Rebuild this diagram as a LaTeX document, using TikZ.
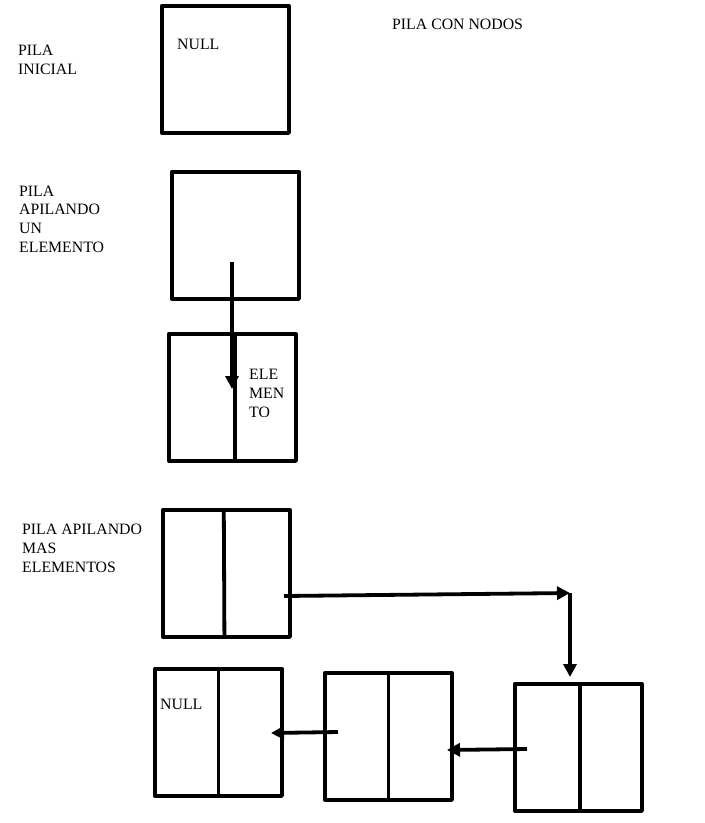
\documentclass[tikz,border=0pt]{standalone}
\usepackage{fontspec}
\setmainfont{Liberation Serif}
\usetikzlibrary{arrows.meta,calc}
\begin{document}
\begin{tikzpicture}[x=1pt,y=-1pt,
  box/.style={draw,line width=3.8pt,line join=round,minimum width=127pt,minimum height=127pt,inner sep=0pt,anchor=north west},
  lbl/.style={inner sep=0pt,anchor=base west,align=left,font=\fontsize{15.8}{18.6}\selectfont},
  divider/.style={line width=3.8pt},
  link/.style={line width=3.8pt,-{Triangle[length=13pt,width=13pt]}}]
\useasboundingbox (0,0) rectangle (705,823);
% titles (anchor at baseline of last line)
\node[lbl] (title) at (392,29) {PILA CON NODOS};
\node[lbl] (l1) at (18,74) {PILA\\INICIAL};
\node[lbl] (l2) at (19,252) {PILA\\APILANDO\\UN\\ELEMENTO};
\node[lbl] (l3) at (22,572) {PILA APILANDO\\MAS\\ELEMENTOS};
% boxes
\node[box] (b1) at (160,4) {};
\node[lbl] (null1) at (177,49) {NULL};
\node[box] (b2) at (170,170) {};
\node[box] (b3) at (167,332) {};
\node[lbl] (elem) at (249,417) {ELE\\MEN\\TO};
\node[box] (b4) at (161,508) {};
\node[box] (b5) at (153,667) {};
\node[lbl] (null2) at (160,709) {NULL};
\node[box] (b6) at (323,671) {};
\node[box] (b7) at (513,682) {};
% dividers
\draw[divider] ($(b3.north west)!0.52!(b3.north east)$) -- ($(b3.south west)!0.52!(b3.south east)$);
\draw[divider] ($(b4.north west)!0.48!(b4.north east)$) -- ($(b4.south west)!0.485!(b4.south east)$);
\draw[divider] ($(b5.north west)!0.5!(b5.north east)$) -- ($(b5.south west)!0.5!(b5.south east)$);
\draw[divider] ($(b6.north west)!0.5!(b6.north east)$) -- ($(b6.south west)!0.5!(b6.south east)$);
\draw[divider] ($(b7.north west)!0.51!(b7.north east)$) -- ($(b7.south west)!0.51!(b7.south east)$);
% connector points
\coordinate (p2) at (232,262);
\coordinate (p3) at (232,389);
\coordinate (p4) at (284,596);
\coordinate (corner) at (570,593);
\coordinate (p7top) at (570,677);
\coordinate (p7) at (527,749);
\coordinate (p6in) at (447,750);
\coordinate (p6) at (338,732);
\coordinate (p5in) at (271,733);
% connectors
\draw[link] (p2) -- (p3);
\draw[link] (p4) -- (corner);
\draw[link] (corner) -- (p7top);
\draw[link] (p7) -- (p6in);
\draw[link] (p6) -- (p5in);
\end{tikzpicture}
\end{document}
